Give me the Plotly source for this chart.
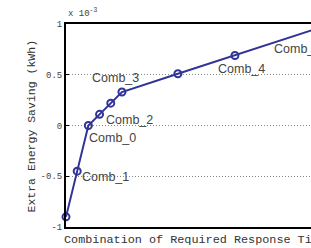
import plotly.graph_objects as go

x_vals = [0, 1, 2, 3, 4, 5, 10, 15.1, 22]
y_vals = [-0.90, -0.45, 0.0, 0.11, 0.22, 0.33, 0.51, 0.69, 0.94]
labels = ["Comb_1", "Comb_0", "Comb_2", "Comb_3", "Comb_4", "Comb_5"]
label_x = [1.40, 2.08, 3.57, 2.35, 13.57, 18.57]
label_y = [-0.505, -0.12, 0.055, 0.465, 0.56, 0.75]
y_ticks = [-1, -0.5, 0, 0.5, 1]
y_tick_text = ["-1", "-0.5", "0", "0.5", "1"]

blue = "rgb(48,52,150)"
mono = "Liberation Mono, Courier New, monospace"

fig = go.Figure()
fig.add_trace(go.Scatter(
    x=x_vals, y=y_vals, mode="lines+markers",
    line=dict(color=blue, width=2),
    marker=dict(symbol="circle-open", size=7, color=blue, line=dict(width=2, color=blue)),
    cliponaxis=False, showlegend=False,
))

ann = []
for t, lx, ly in zip(labels, label_x, label_y):
    ann.append(dict(x=lx, y=ly, xref="x", yref="y", text=t, showarrow=False,
                    xanchor="left", yanchor="middle", xshift=-2,
                    font=dict(family="Liberation Sans, Arial", size=12.5, color="#444")))
ann.append(dict(x=-0.1388, y=0.5, xref="paper", yref="paper", text="Extra Energy Saving (kWh)",
                textangle=-90, showarrow=False, xanchor="center", yanchor="middle",
                font=dict(family=mono, size=11.5, color="#333")))
ann.append(dict(x=-0.0163, y=-0.064, xref="paper", yref="paper",
                text="Combination of Required Response Time (s)", showarrow=False,
                xanchor="left", yanchor="middle",
                font=dict(family=mono, size=11.8, color="#333")))
ann.append(dict(x=0.0, y=1.015, xref="paper", yref="paper", text="x 10<sup>-3</sup>",
                showarrow=False, xanchor="left", yanchor="bottom",
                font=dict(family=mono, size=9, color="#444")))

fig.update_layout(
    width=311, height=248,
    margin=dict(l=66, r=0, t=24, b=21),
    paper_bgcolor="white", plot_bgcolor="white",
    annotations=ann,
    xaxis=dict(range=[0, 21.9], showticklabels=False, showgrid=False, zeroline=False,
               showline=True, linecolor="black", linewidth=2, mirror=True, ticks=""),
    yaxis=dict(range=[-1, 1], tickvals=y_ticks, ticktext=y_tick_text,
               showgrid=True, gridcolor="#888", griddash="1px,2px", gridwidth=1,
               zeroline=False, showline=True, linecolor="black", linewidth=2,
               ticks="inside", ticklen=3, tickcolor="black",
               tickfont=dict(family=mono, size=9, color="#444")),
)

fig.write_html("out.html", config={"displayModeBar": False},
               post_script="document.body.style.margin='0';document.body.style.overflow='hidden';")
